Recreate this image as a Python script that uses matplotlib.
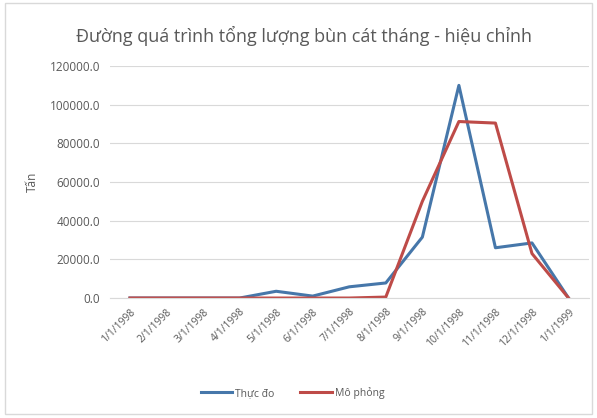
import matplotlib.pyplot as plt
from matplotlib.patches import Rectangle
from matplotlib.ticker import FuncFormatter

# Monthly sediment totals (tons)
months = ['1/1/1998', '2/1/1998', '3/1/1998', '4/1/1998', '5/1/1998', '6/1/1998',
          '7/1/1998', '8/1/1998', '9/1/1998', '10/1/1998', '11/1/1998', '12/1/1998',
          '1/1/1999']
measured = [0, 0, 0, 0, 3500, 1000, 5800, 7800, 31500, 110000, 26000, 28500, 0]
simulated = [0, 0, 0, 0, 0, 0, 0, 500, 50000, 91300, 90500, 23000, 0]

plt.rcParams['font.family'] = ['Open Sans', 'DejaVu Sans']

fig = plt.figure(figsize=(5.97, 4.18), dpi=100)
ax = fig.add_axes([0.184, 0.287, 0.802, 0.555])

x = range(len(months))
ax.plot(x, measured, color='#4677AA', lw=2.2, label='Thực đo')
ax.plot(x, simulated, color='#BE4B48', lw=2.2, label='Mô phỏng')

ax.set_xlim(-0.55, len(months) - 0.45)
ax.set_ylim(0, 120000)
ax.set_yticks(range(0, 120001, 20000))
ax.yaxis.set_major_formatter(FuncFormatter(lambda v, p: f'{v:.1f}'))
ax.set_xticks(list(x))
ax.set_xticklabels(months, rotation=45, ha='right', rotation_mode='anchor')
ax.tick_params(axis='y', labelsize=8.5, colors='#595959', length=0, pad=7)
ax.tick_params(axis='x', labelsize=7.5, colors='#595959', length=0, pad=6)
ax.grid(axis='y', color='#D9D9D9', lw=0.8)
ax.set_axisbelow(True)
for s in ['top', 'right', 'left']:
    ax.spines[s].set_visible(False)
ax.spines['bottom'].set_color('#D9D9D9')

ax.set_ylabel('Tấn', fontsize=8.5, color='#595959', labelpad=8)
fig.text(0.51, 0.915, 'Đường quá trình tổng lượng bùn cát tháng - hiệu chỉnh',
         ha='center', va='center', fontsize=13, color='#595959')

fig.legend(loc='center', bbox_to_anchor=(0.49, 0.06), ncol=2, frameon=False,
           fontsize=7.5, labelcolor='#595959', handlelength=3, columnspacing=2.5,
           handletextpad=0.3)

# light frame around the chart area
fig.patches.append(Rectangle((0.008, 0.01), 0.984, 0.982, transform=fig.transFigure,
                             fill=False, edgecolor='#D9D9D9', lw=1))

fig.savefig('out.png', dpi=100)
